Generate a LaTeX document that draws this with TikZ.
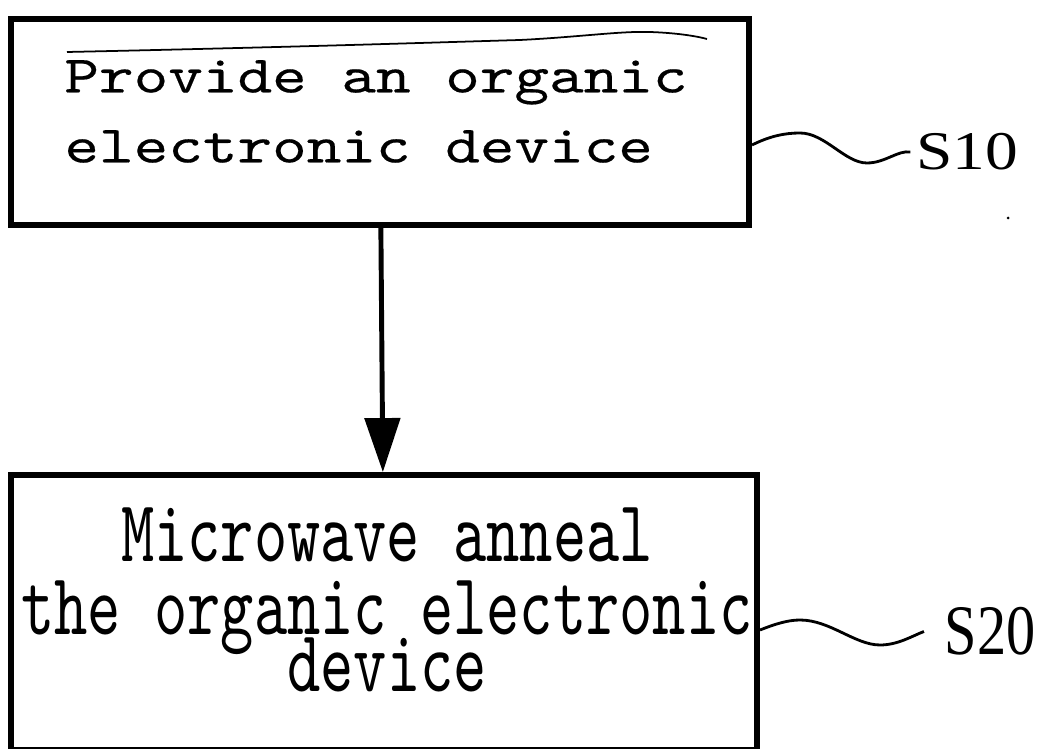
\documentclass[tikz,border=0pt]{standalone}
\usepackage{fontspec}
\usetikzlibrary{arrows.meta}
\newfontfamily\stepmono[FakeStretch=1.25,FakeBold=0.3]{lmmono10-regular.otf}
\newfontfamily\stepnarrow[FakeStretch=0.72]{lmmono10-regular.otf}
\newfontfamily\tagwide[FakeStretch=1.2]{Liberation Serif}
\newfontfamily\tagnarrow[FakeStretch=0.82]{Liberation Serif}
\newcommand\annealfont{\stepnarrow\fontsize{25}{20.8}\selectfont\lineskiplimit=-30pt\relax}
\tikzset{
  stepbox/.style={draw,line width=1.6pt,inner sep=0pt},
  steptext/.style={inner sep=0pt,align=#1},
  wave/.style={line width=0.8pt},
  flowarrow/.style={line width=1.4pt,-{Triangle[length=0.54cm,width=0.35cm]}}
}
\begin{document}
\begin{tikzpicture}[x=0.01cm,y=-0.01cm]
  \useasboundingbox (0,0) rectangle (1039,749);
  % boxes
  \node[stepbox,minimum width=7.38cm,minimum height=2.06cm] (provide) at (380,122) {};
  \node[stepbox,minimum width=7.46cm,minimum height=2.75cm] (anneal) at (384,612.5) {};
  \node[steptext=left,font=\stepmono\fontsize{15}{19.9}\selectfont] (providetext) at (376,111.5)
    {Provide an organic\\electronic device};
  \node[steptext=center,font=\annealfont] (annealtext) at (387,600)
    {Microwave anneal\\the organic electronic\\[-4.6pt]device};
  % step labels
  \node[inner sep=0.05cm,font=\tagwide\fontsize{15.5}{18}\selectfont] (s10) at (967,152) {S10};
  \node[inner sep=0.2cm,font=\tagnarrow\fontsize{20.2}{24}\selectfont] (s20) at (990,631.5) {S20};
  \draw[flowarrow] (provide) -- (anneal);
  \draw[wave] (provide.east |- 0,145) .. controls (770,136) and (785,133) .. (800,133)
    .. controls (825,133) and (845,163) .. (867,163) .. controls (885,163) and (898,150) .. (s10.west);
  \draw[wave] (anneal.east |- 0,630) .. controls (775,624) and (788,620) .. (800,620)
    .. controls (830,620) and (855,645) .. (880,645) .. controls (898,645) and (912,636) .. (s20.west);
  % stray marks of the scan
  \draw[line width=0.5pt] (67,52) .. controls (300,47) and (450,42) .. (520,40)
    .. controls (580,37) and (620,31) .. (650,32) .. controls (680,33) and (700,37) .. (707,39);
  \fill (1008,218) circle (1.5);
\end{tikzpicture}
\end{document}
